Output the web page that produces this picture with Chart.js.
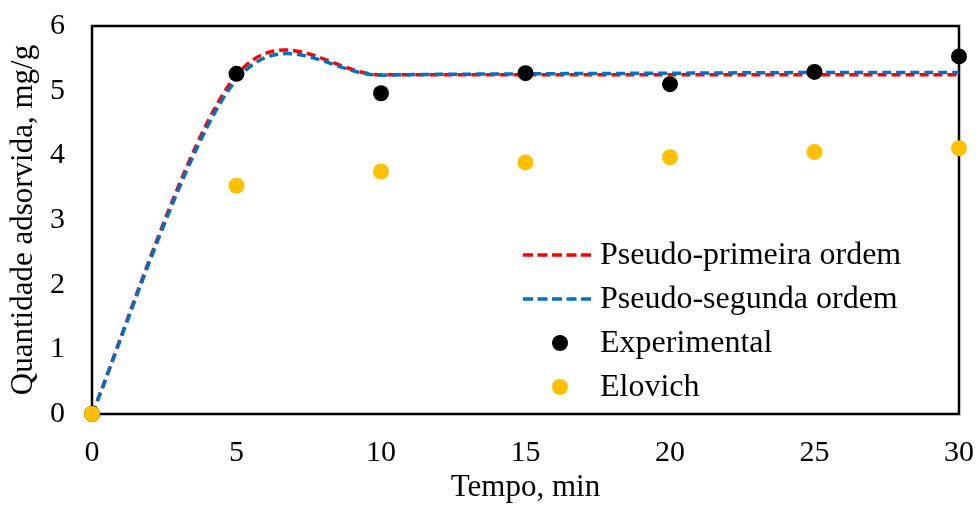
<!DOCTYPE html>
<html>
<head>
<meta charset="utf-8">
<script src="https://cdn.jsdelivr.net/npm/chart.js@4/dist/chart.umd.min.js"></script>
<style>
  html, body { margin: 0; padding: 0; background: #fff; }
  #wrap { width: 978px; height: 511px; }
</style>
</head>
<body>
<div id="wrap"><canvas id="grafico"></canvas></div>
<script>
// tempos (min)
const tempo = [0, 5, 10, 15, 20, 25, 30];
// modelos e dados (mg/g)
const primeiraOrdem = [0, 5.24, 5.245, 5.245, 5.245, 5.245, 5.245];
const segundaOrdem = [0, 5.17, 5.24, 5.26, 5.27, 5.28, 5.28];
const experimental = [0, 5.26, 4.96, 5.27, 5.10, 5.29, 5.53];
const elovich = [0, 3.53, 3.75, 3.89, 3.97, 4.05, 4.11];
const xTicks = [0, 5, 10, 15, 20, 25, 30];
const yTicks = [0, 1, 2, 3, 4, 5, 6];

const fonte = 'Liberation Serif, Times New Roman, serif';

function pontos(ys) {
    return tempo.map((t, i) => ({ x: t, y: ys[i] }));
}

// suavização tipo Excel (Catmull-Rom, 1/6)
const suavizar = {
    id: 'suavizar',
    beforeDatasetsDraw(chart) {
        chart.data.datasets.forEach((ds, i) => {
            if (!ds.showLine) return;
            const meta = chart.getDatasetMeta(i);
            meta.dataset.updateControlPoints(chart.chartArea, 'x');
            const pts = meta.data;
            pts.forEach((p, k) => {
                const a = pts[Math.max(k - 1, 0)];
                const b = pts[Math.min(k + 1, pts.length - 1)];
                const dx = (b.x - a.x) / 6, dy = (b.y - a.y) / 6;
                p.cp1x = p.x - dx; p.cp1y = p.y - dy;
                p.cp2x = p.x + dx; p.cp2y = p.y + dy;
            });
        });
    }
};

// moldura em volta da área do gráfico (por baixo dos pontos)
const moldura = {
    id: 'moldura',
    beforeDatasetsDraw(chart) {
        const a = chart.chartArea;
        const ctx = chart.ctx;
        ctx.save();
        ctx.strokeStyle = '#000';
        ctx.lineWidth = 2.5;
        ctx.strokeRect(a.left, a.top, a.right - a.left, a.bottom - a.top);
        ctx.restore();
    }
};

// legenda desenhada dentro da área do gráfico
const legenda = {
    id: 'legenda',
    afterDraw(chart) {
        const ctx = chart.ctx;
        const x0 = 523, x1 = 595, xt = 600;
        let y = 255;
        ctx.save();
        ctx.font = '32px ' + fonte;
        ctx.textBaseline = 'middle';
        chart.data.datasets.forEach(ds => {
            if (ds.showLine) {
                ctx.strokeStyle = ds.borderColor;
                ctx.lineWidth = 3.5;
                ctx.setLineDash([10, 4.5]);
                ctx.beginPath();
                ctx.moveTo(x0, y);
                ctx.lineTo(x1, y);
                ctx.stroke();
                ctx.setLineDash([]);
            } else {
                ctx.fillStyle = ds.backgroundColor;
                ctx.beginPath();
                ctx.arc((x0 + x1) / 2 + 1, y, 8, 0, Math.PI * 2);
                ctx.fill();
            }
            ctx.fillStyle = '#000';
            ctx.fillText(ds.label, xt, y + 1);
            y += 44;
        });
        ctx.restore();
    }
};

function semPadding(s) {
    s.paddingTop = 0; s.paddingBottom = 0;
    s.paddingLeft = 0; s.paddingRight = 0;
}

const ctx = document.getElementById('grafico').getContext('2d');
new Chart(ctx, {
    type: 'line',
    data: {
        datasets: [{
            label: 'Pseudo-primeira ordem',
            data: pontos(primeiraOrdem),
            borderColor: '#FF0000',
            borderWidth: 3.5,
            borderDash: [9, 5],
            pointRadius: 0,
            tension: 0.4,
            showLine: true,
            order: 3
        }, {
            label: 'Pseudo-segunda ordem',
            data: pontos(segundaOrdem),
            borderColor: '#0070C0',
            borderWidth: 3.5,
            borderDash: [9, 5],
            pointRadius: 0,
            tension: 0.4,
            showLine: true,
            order: 2
        }, {
            label: 'Experimental',
            data: pontos(experimental),
            backgroundColor: '#000000',
            borderColor: '#000000',
            pointRadius: 8,
            pointBorderWidth: 0,
            showLine: false,
            clip: false,
            order: 1
        }, {
            label: 'Elovich',
            data: pontos(elovich),
            backgroundColor: '#FFC000',
            borderColor: '#FFC000',
            pointRadius: 8,
            pointBorderWidth: 0,
            showLine: false,
            clip: false,
            order: 0
        }]
    },
    options: {
        responsive: true,
        maintainAspectRatio: false,
        animation: false,
        layout: { padding: { top: 26, right: 19, left: 0, bottom: 0 } },
        plugins: {
            legend: { display: false },
            tooltip: { enabled: false }
        },
        scales: {
            x: {
                type: 'linear',
                min: 0,
                max: 30,
                afterFit(s) { s.height = 97; semPadding(s); },
                afterBuildTicks(s) { s.ticks = xTicks.map(v => ({ value: v })); },
                grid: { display: false, drawTicks: false },
                border: { display: false },
                ticks: {
                    color: '#000',
                    padding: 21,
                    maxRotation: 0,
                    font: { family: fonte, size: 30 }
                },
                title: {
                    display: true,
                    text: 'Tempo, min',
                    color: '#000',
                    padding: { top: 0, bottom: 5 },
                    font: { family: fonte, size: 31 }
                }
            },
            y: {
                min: 0,
                max: 6,
                afterFit(s) { s.width = 92; semPadding(s); },
                afterBuildTicks(s) { s.ticks = yTicks.map(v => ({ value: v })); },
                grid: { display: false, drawTicks: false },
                border: { display: false },
                ticks: {
                    color: '#000',
                    padding: 27,
                    font: { family: fonte, size: 30 }
                },
                title: {
                    display: true,
                    text: 'Quantidade adsorvida, mg/g',
                    color: '#000',
                    padding: { top: 5, bottom: 0 },
                    font: { family: fonte, size: 31 }
                }
            }
        }
    },
    plugins: [suavizar, moldura, legenda]
});
</script>
</body>
</html>
